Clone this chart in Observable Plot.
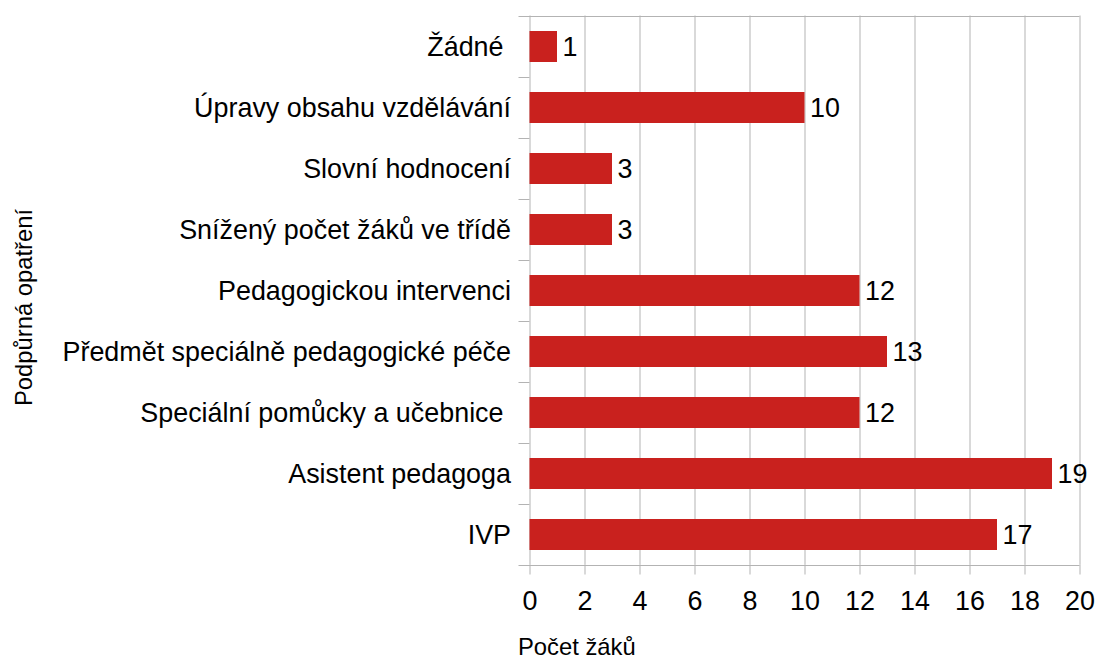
<!DOCTYPE html>
<html>
<head>
<meta charset="utf-8">
<script src="https://cdn.jsdelivr.net/npm/d3@7"></script>
<script src="https://cdn.jsdelivr.net/npm/@observablehq/plot@0.6"></script>
<style>
  html, body { margin: 0; padding: 0; background: #fff; }
  #chart svg { display: block; }
</style>
</head>
<body>
<div id="chart"></div>
<script>
const categories = [
  "Žádné\u00a0",
  "Úpravy obsahu vzdělávání",
  "Slovní hodnocení",
  "Snížený počet žáků ve třídě",
  "Pedagogickou intervenci",
  "Předmět speciálně pedagogické péče",
  "Speciální pomůcky a učebnice\u00a0",
  "Asistent pedagoga",
  "IVP"
];
const values = [1, 10, 3, 3, 12, 13, 12, 19, 17];
const xTicks = [0, 2, 4, 6, 8, 10, 12, 14, 16, 18, 20];
const xTitle = "Počet žáků";
const yTitle = "Podpůrná opatření";

const data = categories.map((c, i) => ({category: c, value: values[i]}));

const W = 1096, H = 659;
const mt = 15.5, mb = 94.5, ml = 529.5, mr = 16.5;
const step = (H - mt - mb) / categories.length;
const grid = "#b3b3b3";
const fs = 26.9;
const tfs = 23.8;
const xMin = 0, xMax = 20, tickOut = -0.4;

const inner = categories.slice(1);
const chart = Plot.plot({
  width: W,
  height: H,
  marginTop: mt,
  marginBottom: mb,
  marginLeft: ml,
  marginRight: mr,
  style: {fontFamily: "'Liberation Sans', Arial, sans-serif", fontSize: fs + "px", background: "#fff", color: "#000"},
  x: {domain: [xMin, xMax]},
  y: {domain: categories, paddingInner: 0.5, paddingOuter: 0.25},
  marks: [
    Plot.gridX(xTicks, {stroke: grid, strokeOpacity: 1, strokeWidth: 1}),
    // band boundary ticks on the left
    Plot.ruleY(inner, {y: d => d, dy: -step / 2, x1: () => tickOut, x2: () => xMin, stroke: grid, strokeWidth: 1}),
    // top and bottom frame lines
    Plot.ruleY([categories[0]], {y: d => d, dy: -step / 2, x1: () => tickOut, x2: () => xMax, stroke: grid, strokeWidth: 1}),
    Plot.ruleY([categories[categories.length - 1]], {y: d => d, dy: step / 2, x1: () => tickOut, x2: () => xMax, stroke: grid, strokeWidth: 1}),
    Plot.barX(data, {x: "value", y: "category", fill: "#c9211e"}),
    Plot.text(data, {x: "value", y: "category", text: d => String(d.value), textAnchor: "start", dx: 5, fontSize: fs, fill: "#000"}),
    Plot.axisX({ticks: xTicks, tickSize: 10, tickPadding: 16, stroke: grid, fill: "#000", fontSize: fs, label: null, tickFormat: d => String(d)}),
    Plot.axisY({tickSize: 0, tickPadding: 19, fontSize: fs, fill: "#000", label: null}),
    Plot.text([xTitle], {frameAnchor: "bottom-left", textAnchor: "start", lineAnchor: "bottom", dx: -12, dy: 90, fontSize: tfs, fill: "#000"}),
    Plot.text([yTitle], {frameAnchor: "left", textAnchor: "middle", lineAnchor: "bottom", rotate: -90, dx: -498, dy: 17, fontSize: tfs, fill: "#000"})
  ]
});
document.getElementById("chart").appendChild(chart);
</script>
</body>
</html>
